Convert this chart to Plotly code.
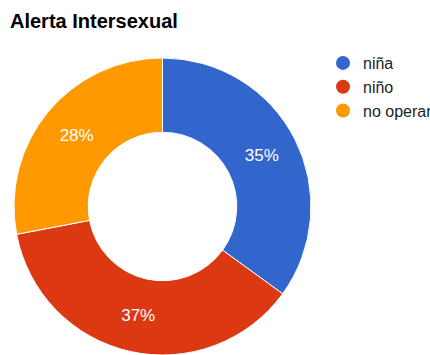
import plotly.graph_objects as go

labels = ["niña", "niño", "no operar"]
values = [35, 37, 28]
colors = ["#3366cc", "#dc3912", "#ff9900"]
title_text = "Alerta Intersexual"

W, H = 430, 355
FONT = "Arial, Liberation Sans, sans-serif"

fig = go.Figure()
fig.add_trace(go.Pie(
    labels=labels,
    values=values,
    marker=dict(colors=colors, line=dict(color="white", width=1)),
    hole=0.5,
    sort=False,
    direction="clockwise",
    rotation=0,
    textinfo="percent",
    texttemplate="%{percent:.0%}",
    textposition="inside",
    insidetextorientation="horizontal",
    textfont=dict(family=FONT, size=17, color="white"),
    domain=dict(x=[14 / W, 311 / W], y=[0, 297 / H]),
    showlegend=False,
    hoverinfo="label+percent",
))

for lab, col in zip(labels, colors):
    fig.add_trace(go.Scatter(
        x=[None], y=[None], mode="markers", name=lab,
        marker=dict(symbol="circle", size=14, color=col),
        showlegend=True,
    ))

fig.update_layout(
    width=W, height=H,
    margin=dict(l=0, r=0, t=0, b=0, autoexpand=False),
    paper_bgcolor="white",
    plot_bgcolor="white",
    title=dict(
        text="<b>" + title_text + "</b>",
        x=10 / W, xanchor="left", xref="paper",
        y=1 - 21 / H, yanchor="middle", yref="container",
        font=dict(family=FONT, size=20, color="#000000"),
    ),
    xaxis=dict(visible=False),
    yaxis=dict(visible=False),
    legend=dict(
        x=323 / W, xanchor="left",
        y=1 - 46 / H, yanchor="top",
        font=dict(family=FONT, size=16, color="#222222"),
        bgcolor="rgba(0,0,0,0)",
        itemsizing="trace",
    ),
)

fig.write_html("out.html")
